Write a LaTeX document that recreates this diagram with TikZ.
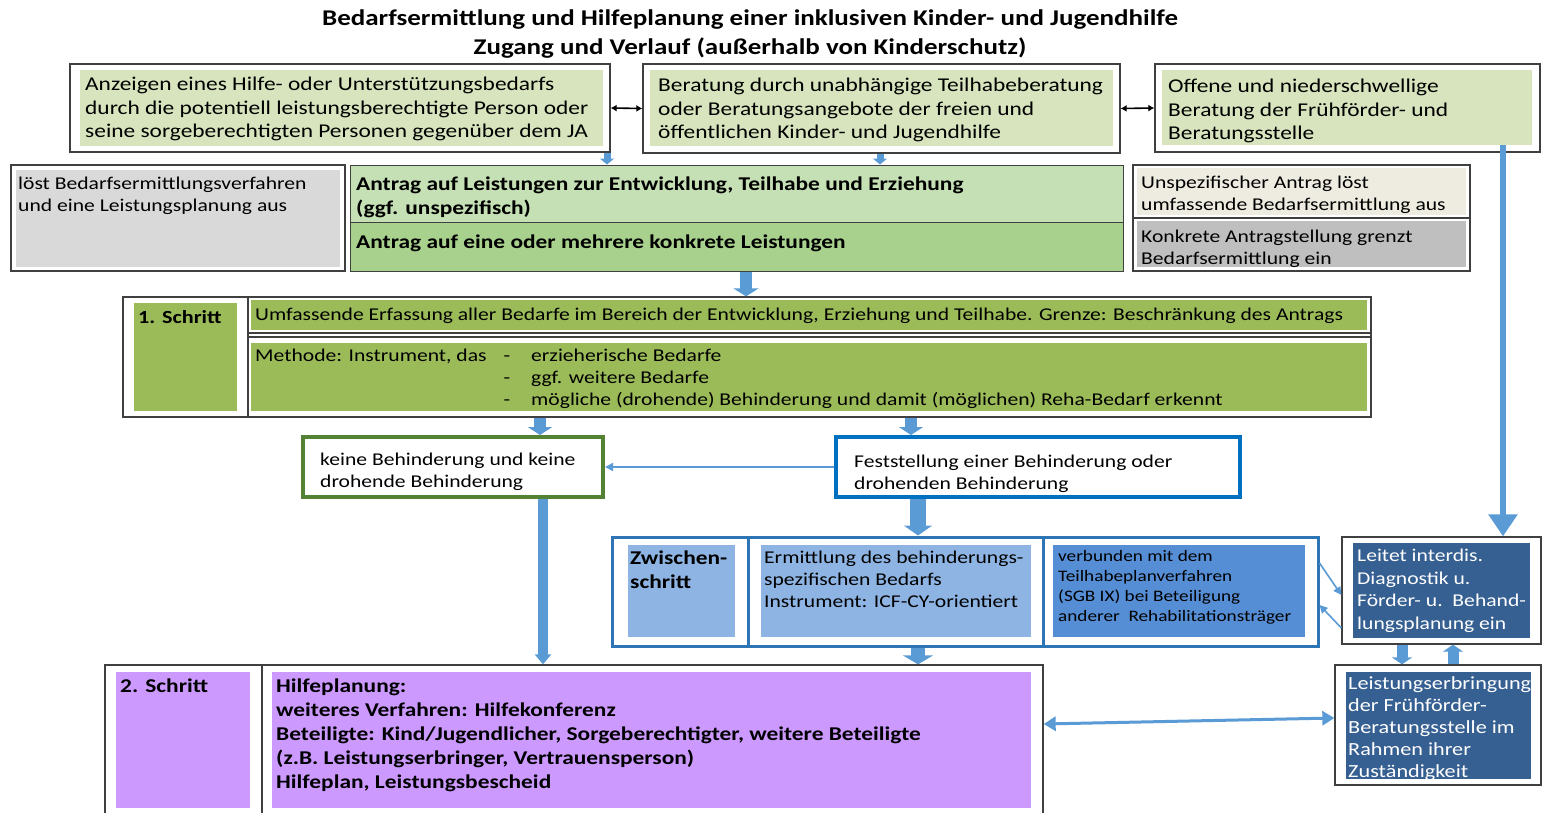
\documentclass[tikz,border=0pt]{standalone}
\usepackage{fontspec}
\setmainfont{Carlito}[FakeStretch=1.2]
\usetikzlibrary{arrows.meta,fit}
\definecolor{lgreen}{HTML}{D7E4BD}
\definecolor{antragA}{HTML}{C5E0B4}
\definecolor{antragB}{HTML}{A9D18E}
\definecolor{grayA}{HTML}{D9D9D9}
\definecolor{beige}{HTML}{EEECE1}
\definecolor{grayB}{HTML}{BFBFBF}
\definecolor{olive}{HTML}{9BBB59}
\definecolor{kgreen}{HTML}{548235}
\definecolor{fblue}{HTML}{0070C0}
\definecolor{zblue}{HTML}{2E75B6}
\definecolor{lblue}{HTML}{8EB4E3}
\definecolor{mblue}{HTML}{558ED5}
\definecolor{dblue}{HTML}{376092}
\definecolor{lilac}{HTML}{CC99FF}
\definecolor{arrblue}{HTML}{5B9BD5}
\definecolor{arrdark}{HTML}{41719C}
\definecolor{frmgray}{HTML}{404040}
\begin{document}
\begin{tikzpicture}[x=1pt,y=-1pt,
  frm/.style={draw=frmgray, line width=1.3pt, inner sep=0pt},
  fl/.style={inner sep=0pt, draw=none, fill=#1},
  tx/.style={inner sep=0pt, anchor=north west, align=left, yshift=-3pt},
  fA/.style={font=\fontsize{19.5}{23.5}\selectfont},
  fB/.style={font=\fontsize{18}{22}\selectfont},
  fBb/.style={font=\fontsize{19.5}{24}\selectfont\bfseries},
  fC/.style={font=\fontsize{16}{20}\selectfont},
  ftitle/.style={font=\fontsize{22.5}{28}\selectfont\bfseries},
  blk/.style n args={3}{draw=arrblue, line width=#1, -{Triangle[width=#2,length=#3]}},
  thin/.style={draw=arrblue, line width=1.6pt, -{Triangle[width=8pt,length=8pt]}},
  dbl/.style={draw=black, line width=1.6pt, {Latex[length=6pt,width=7pt]}-{Latex[length=6pt,width=7pt]}}
]
\useasboundingbox (0,0) rectangle (1545,812);
\fill[white] (0,0) rectangle (1545,812);

% title
\node[ftitle, inner sep=0pt] (t1) at (750,20) {Bedarfsermittlung und Hilfeplanung einer inklusiven Kinder- und Jugendhilfe};
\node[ftitle, inner sep=0pt] (t2) at (750,48) {Zugang und Verlauf (außerhalb von Kinderschutz)};

% top row
\node[frm, fit={(70,64) (610,152)}] (A) {};
\node[fl=lgreen, fit={(80,70) (603,146)}] (Af) {};
\node[tx, fA] (At) at (85,74) {Anzeigen eines Hilfe- oder Unterstützungsbedarfs\\durch die potentiell leistungsberechtigte Person oder\\seine sorgeberechtigten Personen gegenüber dem JA};

\node[frm, fit={(643,64) (1120,153)}] (B) {};
\node[fl=lgreen, fit={(650,70) (1113,146)}] (Bf) {};
\node[tx, fA] (Bt) at (658,75) {Beratung durch unabhängige Teilhabeberatung\\oder Beratungsangebote der freien und\\öffentlichen Kinder- und Jugendhilfe};

\node[frm, fit={(1155,64) (1540,152)}] (C) {};
\node[fl=lgreen, fit={(1162,70) (1532,145)}] (Cf) {};
\node[tx, fA] (Ct) at (1168,76) {Offene und niederschwellige\\Beratung der Frühförder- und\\Beratungsstelle};

\draw[dbl] (A.east) -- (B.west);
\draw[dbl] (B.east) -- (C.west);

% second row
\node[frm, fit={(11,165) (345,271)}] (L) {};
\node[fl=grayA, fit={(16,170) (340,267)}] (Lf) {};
\node[tx, fB] (Lt) at (18,174) {löst Bedarfsermittlungsverfahren\\und eine Leistungsplanung aus};

\node[frm, fill=antragA, line width=1pt, fit={(350,165) (1123,222)}] (P1) {};
\node[frm, fill=antragB, line width=1pt, fit={(350,222) (1123,271)}] (P2) {};
\node[tx, fBb] (P1t) at (356,174) {Antrag auf Leistungen zur Entwicklung, Teilhabe und Erziehung\\(ggf. unspezifisch)};
\node[tx, fBb] (P2t) at (356,232) {Antrag auf eine oder mehrere konkrete Leistungen};

\node[frm, fit={(1133,165) (1470,218)}] (R1) {};
\node[frm, fit={(1133,218) (1470,271)}] (R2) {};
\node[fl=beige, fit={(1137,168) (1466,215)}] (R1f) {};
\node[fl=grayB, fit={(1137,221) (1466,267)}] (R2f) {};
\node[tx, fB] (R1t) at (1141,173) {Unspezifischer Antrag löst\\umfassende Bedarfsermittlung aus};
\node[tx, fB] (R2t) at (1141,227) {Konkrete Antragstellung grenzt\\Bedarfsermittlung ein};

\draw[blk={7pt}{14pt}{6pt}] (A.south -| 607,0) -- (P1.north -| 607,0);
\draw[blk={7pt}{14pt}{6pt}] (B.south -| 880,0) -- (P1.north -| 880,0);

% 1. Schritt
\node[frm, fit={(123,297) (1371,417)}] (S1) {};
\node[frm, fit={(123,297) (248,417)}] (S1l) {};
\node[frm, fit={(248,297) (1371,333)}] (S1a) {};
\node[frm, fit={(248,337) (1371,417)}] (S1b) {};
\node[fl=olive, fit={(134,303) (237,411)}] (S1lf) {};
\node[fl=olive, fit={(251,300) (1367,330)}] (S1af) {};
\node[fl=olive, fit={(251,343) (1367,411)}] (S1bf) {};
\node[tx, font=\fontsize{18.5}{22}\selectfont\bfseries] (S1lt) at (138,307) {1. Schritt};
\node[tx, fB] (S1at) at (255,305) {Umfassende Erfassung aller Bedarfe im Bereich der Entwicklung, Erziehung und Teilhabe. Grenze: Beschränkung des Antrags};
\node[tx, fB] (S1bt) at (255,346) {Methode: Instrument, das};
\node[tx, fB] (S1bi) at (531,346) {\llap{-\hspace{21pt}}erzieherische Bedarfe\\\llap{-\hspace{21pt}}ggf. weitere Bedarfe\\\llap{-\hspace{21pt}}mögliche (drohende) Behinderung und damit (möglichen) Reha-Bedarf erkennt};

\draw[blk={12pt}{25pt}{8pt}] (P2.south -| 746,0) -- (S1.north -| 746,0);

% keine / Feststellung
\node[draw=kgreen, line width=4pt, inner sep=0pt, fit={(303,437) (603,497)}] (K) {};
\node[tx, fB] (Kt) at (320,450) {keine Behinderung und keine\\drohende Behinderung};
\node[draw=fblue, line width=4pt, inner sep=0pt, fit={(836,437) (1240,497)}] (F) {};
\node[tx, fB] (Ft) at (854,452) {Feststellung einer Behinderung oder\\drohenden Behinderung};

\draw[blk={12pt}{24pt}{8pt}] (S1.south -| 540,0) -- (K.north -| 540,0);
\draw[blk={12pt}{24pt}{8pt}] (S1.south -| 911,0) -- (F.north -| 911,0);
\draw[thin] (F.west) -- (K.east);

% Zwischenschritt
\node[draw=zblue, line width=3pt, inner sep=0pt, fit={(612,537) (748,646)}] (Z1) {};
\node[draw=zblue, line width=3pt, inner sep=0pt, fit={(748,537) (1043,646)}] (Z2) {};
\node[draw=zblue, line width=3pt, inner sep=0pt, fit={(1043,537) (1318,646)}] (Z3) {};
\node[fl=lblue, fit={(628,545) (735,637)}] (Z1f) {};
\node[fl=lblue, fit={(761,545) (1031,637)}] (Z2f) {};
\node[fl=mblue, fit={(1053,545) (1305,637)}] (Z3f) {};
\node[tx, fBb] (Z1t) at (630,548) {Zwischen-\\schritt};
\node[tx, fB] (Z2t) at (764,548) {Ermittlung des behinderungs-\\spezifischen Bedarfs\\Instrument: ICF-CY-orientiert};
\node[tx, fC] (Z3t) at (1058,547) {verbunden mit dem\\Teilhabeplanverfahren\\(SGB IX) bei Beteiligung\\anderer\ \ Rehabilitationsträger};

\draw[blk={16pt}{28pt}{10pt}] (F.south -| 918,0) -- (Z2.north -| 918,0);

% Leitet / Leistung
\node[frm, fit={(1342,537) (1541,644)}] (D) {};
\node[fl=dblue, fit={(1353,543) (1530,638)}] (Df) {};
\node[tx, font=\fontsize{18}{22.5}\selectfont, text=white] (Dt) at (1357,546) {Leitet interdis.\\Diagnostik u.\\Förder- u.\ \ Behand-\\lungsplanung ein};
\node[frm, fit={(1335,665) (1541,785)}] (E) {};
\node[fl=dblue, fit={(1346,672) (1531,779)}] (Ef) {};
\node[tx, font=\fontsize{18.5}{22}\selectfont, text=white] (Et) at (1348,673) {Leistungserbringung\\der Frühförder-\\Beratungsstelle im\\Rahmen ihrer\\Zuständigkeit};

\draw[draw=arrblue, line width=6pt, -{Triangle[width=28pt,length=22pt]}] (Cf.south -| 1503,0) -- (D.north -| 1503,0);
\draw[thin] (Z3.east |- 0,563) -- (D.west |- 0,595);
\draw[thin] (D.west |- 0,628) -- (Z3.east |- 0,605);
\draw[blk={11pt}{20pt}{7pt}] (D.south -| 1402,0) -- (E.north -| 1402,0);
\draw[blk={11pt}{20pt}{7pt}] (E.north -| 1453,0) -- (D.south -| 1453,0);

% 2. Schritt
\node[frm, fit={(105,665) (1043,830)}] (S2) {};
\node[frm, fit={(105,665) (262,830)}] (S2l) {};
\node[fl=lilac, fit={(116,672) (250,808)}] (S2lf) {};
\node[fl=lilac, fit={(272,672) (1031,808)}] (S2rf) {};
\node[tx, fBb] (S2lt) at (120,676) {2. Schritt};
\node[tx, fBb] (S2rt) at (276,676) {Hilfeplanung:\\weiteres Verfahren: Hilfekonferenz\\Beteiligte: Kind/Jugendlicher, Sorgeberechtigter, weitere Beteiligte\\(z.B. Leistungserbringer, Vertrauensperson)\\Hilfeplan, Leistungsbescheid};

\draw[blk={10pt}{16pt}{10pt}] (K.south -| 543,0) -- (S2.north -| 543,0);
\draw[blk={14pt}{30pt}{9pt}] (Z2.south -| 918,0) -- (S2.north -| 918,0);
\draw[draw=arrblue, line width=3pt, {Triangle[width=14pt,length=12pt]}-{Triangle[width=14pt,length=12pt]}] (S2.east |- 0,724) -- (E.west |- 0,718);
\end{tikzpicture}
\end{document}
